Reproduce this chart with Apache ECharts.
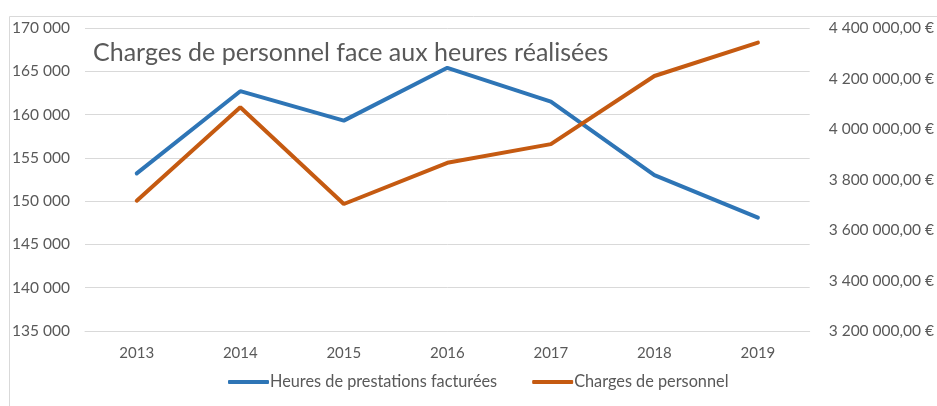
<!DOCTYPE html>
<html>
<head>
<meta charset="utf-8">
<script src="https://cdn.jsdelivr.net/npm/echarts@6/dist/echarts.min.js"></script>
<style>
  html, body { margin: 0; padding: 0; background: #fff; }
  #chart { width: 937px; height: 406px; }
</style>
</head>
<body>
<div id="chart"></div>
<script>
// données
const years = ["2013", "2014", "2015", "2016", "2017", "2018", "2019"];
const heures = [153200, 162700, 159300, 165400, 161500, 153000, 148100];
const charges = [3716000, 4086000, 3703000, 3866000, 3940000, 4210000, 4342000];

const FONT = "Lato";
const GREY = "#595959";

// "170 000" / "4 400 000,00 €"
function groupe(n) {
  return String(Math.round(n)).replace(/\B(?=(\d{3})+(?!\d))/g, " ");
}

const chart = echarts.init(document.getElementById("chart"));
chart.setOption({
  animation: false,
  textStyle: { fontFamily: FONT },
  color: ["#2E75B6", "#C55A11"],
  title: {
    text: "Charges de personnel face aux heures réalisées",
    left: 88,
    top: 35,
    textStyle: { fontFamily: FONT, fontSize: 25, fontWeight: "normal", color: GREY }
  },
  legend: {
    bottom: 11,
    left: 223,
    itemWidth: 41,
    itemHeight: 4,
    itemGap: 35,
    icon: "roundRect",
    textStyle: { fontFamily: FONT, fontSize: 16.3, color: GREY, padding: [0, 0, 0, -4] },
    data: ["Heures de prestations facturées", "Charges de personnel"]
  },
  graphic: [{
    type: "rect",
    shape: { x: 9.5, y: 16.5, width: 940, height: 400 },
    style: { fill: "none", stroke: "#d9d9d9", lineWidth: 1 },
    silent: true
  }],
  grid: { left: 85, right: 127, top: 28, bottom: 75 },
  xAxis: {
    type: "category",
    data: years,
    boundaryGap: true,
    axisLine: { lineStyle: { color: "#d9d9d9" } },
    axisTick: { show: false },
    axisLabel: { color: GREY, fontSize: 15, margin: 15, fontFamily: FONT }
  },
  yAxis: [{
    type: "value",
    min: 135000,
    max: 170000,
    interval: 5000,
    axisLine: { show: false },
    axisTick: { show: false },
    splitLine: { lineStyle: { color: "#d9d9d9", width: 1 } },
    axisLabel: { color: GREY, fontSize: 15.5, margin: 15, fontFamily: FONT, formatter: v => groupe(v) }
  }, {
    type: "value",
    min: 3200000,
    max: 4400000,
    interval: 200000,
    axisLine: { show: false },
    axisTick: { show: false },
    splitLine: { show: false },
    axisLabel: { color: GREY, fontSize: 15.5, margin: 19, fontFamily: FONT, formatter: v => groupe(v) + ",00 €" }
  }],
  series: [{
    name: "Heures de prestations facturées",
    type: "line",
    data: heures,
    yAxisIndex: 0,
    symbol: "none",
    lineStyle: { width: 4, cap: "round" }
  }, {
    name: "Charges de personnel",
    type: "line",
    data: charges,
    yAxisIndex: 1,
    symbol: "none",
    lineStyle: { width: 4, cap: "round" }
  }]
});
</script>
</body>
</html>
